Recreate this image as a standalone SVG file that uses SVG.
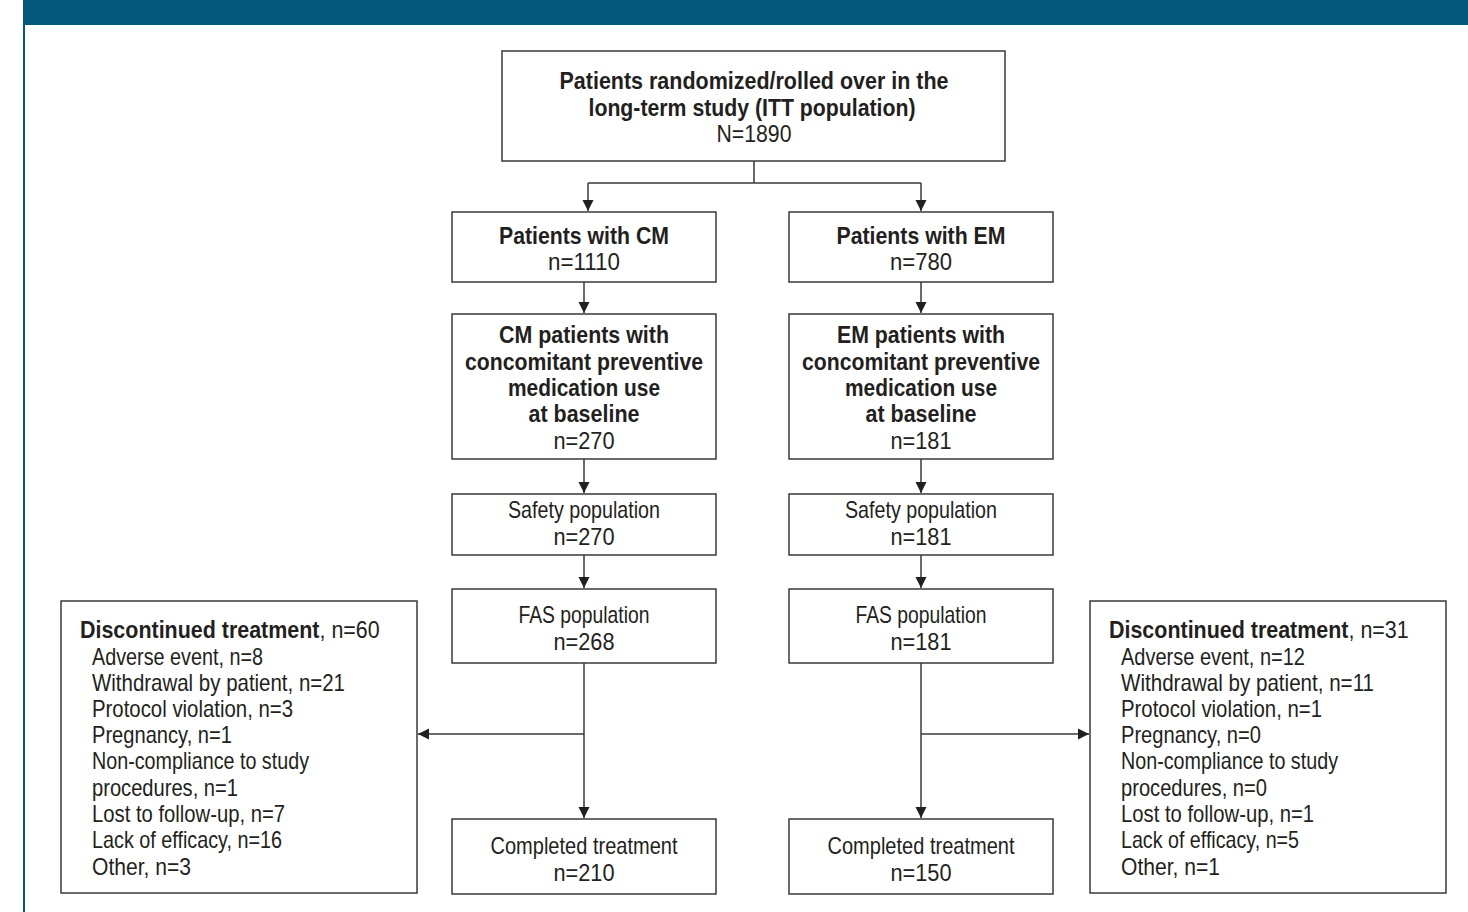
<svg xmlns="http://www.w3.org/2000/svg" width="1468" height="912" viewBox="0 0 1468 912">
<style>
.box{fill:#ffffff;stroke:#3a3a3a;stroke-width:1.5}
.t{font-family:"Liberation Sans",Arial,sans-serif;font-size:24px;fill:#231f20}
.c{text-anchor:middle}
.b{font-weight:bold}
.ln{fill:none;stroke:#3a3a3a;stroke-width:1.5}
</style>
<defs>
<marker id="arr" markerUnits="userSpaceOnUse" markerWidth="12" markerHeight="12" refX="11" refY="6" orient="auto">
<path d="M0,0.5 L11,6 L0,11.5 Z" fill="#231f20"/>
</marker>
</defs>
<rect x="0" y="0" width="1468" height="912" fill="#ffffff"/>
<rect x="23" y="0" width="1445" height="25" fill="#03577a"/>
<rect x="23" y="25" width="2" height="887" fill="#03577a"/>

<g id="connectors">
<path class="ln" d="M754,161 V183 M588,183 H921"/>
<path class="ln" d="M588,183 V211" marker-end="url(#arr)"/>
<path class="ln" d="M921,183 V211" marker-end="url(#arr)"/>
<path class="ln" d="M584,282 V313" marker-end="url(#arr)"/>
<path class="ln" d="M921,282 V313" marker-end="url(#arr)"/>
<path class="ln" d="M584,459 V493" marker-end="url(#arr)"/>
<path class="ln" d="M921,459 V493" marker-end="url(#arr)"/>
<path class="ln" d="M584,555 V588" marker-end="url(#arr)"/>
<path class="ln" d="M921,555 V588" marker-end="url(#arr)"/>
<path class="ln" d="M584,663 V818" marker-end="url(#arr)"/>
<path class="ln" d="M921,663 V818" marker-end="url(#arr)"/>
<path class="ln" d="M584,734 H418" marker-end="url(#arr)"/>
<path class="ln" d="M921,734 H1089" marker-end="url(#arr)"/>
</g>

<g id="itt">
<rect class="box" x="502" y="51" width="503" height="110"/>
<text class="t c b" x="754" y="89" textLength="389" lengthAdjust="spacingAndGlyphs">Patients randomized/rolled over in the</text>
<text class="t c b" x="752" y="116" textLength="327" lengthAdjust="spacingAndGlyphs">long-term study (ITT population)</text>
<text class="t c" x="754" y="142" textLength="75" lengthAdjust="spacingAndGlyphs">N=1890</text>
</g>

<g id="cm">
<rect class="box" x="452" y="212" width="264" height="70"/>
<text class="t c b" x="584" y="244" textLength="170" lengthAdjust="spacingAndGlyphs">Patients with CM</text>
<text class="t c" x="584" y="270" textLength="72" lengthAdjust="spacingAndGlyphs">n=1110</text>
</g>

<g id="em">
<rect class="box" x="789" y="212" width="264" height="70"/>
<text class="t c b" x="921" y="244" textLength="169" lengthAdjust="spacingAndGlyphs">Patients with EM</text>
<text class="t c" x="921" y="270" textLength="62" lengthAdjust="spacingAndGlyphs">n=780</text>
</g>

<g id="cm-prev">
<rect class="box" x="452" y="314" width="264" height="145"/>
<text class="t c b" x="584" y="343" textLength="170" lengthAdjust="spacingAndGlyphs">CM patients with</text>
<text class="t c b" x="584" y="370" textLength="238" lengthAdjust="spacingAndGlyphs">concomitant preventive</text>
<text class="t c b" x="584" y="396" textLength="152" lengthAdjust="spacingAndGlyphs">medication use</text>
<text class="t c b" x="584" y="422" textLength="111" lengthAdjust="spacingAndGlyphs">at baseline</text>
<text class="t c" x="584" y="449" textLength="61" lengthAdjust="spacingAndGlyphs">n=270</text>
</g>

<g id="em-prev">
<rect class="box" x="789" y="314" width="264" height="145"/>
<text class="t c b" x="921" y="343" textLength="168" lengthAdjust="spacingAndGlyphs">EM patients with</text>
<text class="t c b" x="921" y="370" textLength="238" lengthAdjust="spacingAndGlyphs">concomitant preventive</text>
<text class="t c b" x="921" y="396" textLength="152" lengthAdjust="spacingAndGlyphs">medication use</text>
<text class="t c b" x="921" y="422" textLength="111" lengthAdjust="spacingAndGlyphs">at baseline</text>
<text class="t c" x="921" y="449" textLength="61" lengthAdjust="spacingAndGlyphs">n=181</text>
</g>

<g id="cm-safety">
<rect class="box" x="452" y="494" width="264" height="61"/>
<text class="t c" x="584" y="518" textLength="152" lengthAdjust="spacingAndGlyphs">Safety population</text>
<text class="t c" x="584" y="545" textLength="61" lengthAdjust="spacingAndGlyphs">n=270</text>
</g>

<g id="em-safety">
<rect class="box" x="789" y="494" width="264" height="61"/>
<text class="t c" x="921" y="518" textLength="152" lengthAdjust="spacingAndGlyphs">Safety population</text>
<text class="t c" x="921" y="545" textLength="61" lengthAdjust="spacingAndGlyphs">n=181</text>
</g>

<g id="cm-fas">
<rect class="box" x="452" y="589" width="264" height="74"/>
<text class="t c" x="584" y="623" textLength="131" lengthAdjust="spacingAndGlyphs">FAS population</text>
<text class="t c" x="584" y="650" textLength="61" lengthAdjust="spacingAndGlyphs">n=268</text>
</g>

<g id="em-fas">
<rect class="box" x="789" y="589" width="264" height="74"/>
<text class="t c" x="921" y="623" textLength="131" lengthAdjust="spacingAndGlyphs">FAS population</text>
<text class="t c" x="921" y="650" textLength="61" lengthAdjust="spacingAndGlyphs">n=181</text>
</g>

<g id="cm-completed">
<rect class="box" x="452" y="819" width="264" height="75"/>
<text class="t c" x="584" y="854" textLength="187" lengthAdjust="spacingAndGlyphs">Completed treatment</text>
<text class="t c" x="584" y="881" textLength="61" lengthAdjust="spacingAndGlyphs">n=210</text>
</g>

<g id="em-completed">
<rect class="box" x="789" y="819" width="264" height="75"/>
<text class="t c" x="921" y="854" textLength="187" lengthAdjust="spacingAndGlyphs">Completed treatment</text>
<text class="t c" x="921" y="881" textLength="61" lengthAdjust="spacingAndGlyphs">n=150</text>
</g>

<g id="cm-discontinued">
<rect class="box" x="61" y="601" width="356" height="292"/>
<text class="t" transform="translate(80,638) scale(0.894,1)"><tspan class="b">Discontinued treatment</tspan>, n=60</text>
<text class="t" x="92" y="665" textLength="171" lengthAdjust="spacingAndGlyphs">Adverse event, n=8</text>
<text class="t" x="92" y="691" textLength="253" lengthAdjust="spacingAndGlyphs">Withdrawal by patient, n=21</text>
<text class="t" x="92" y="717" textLength="201" lengthAdjust="spacingAndGlyphs">Protocol violation, n=3</text>
<text class="t" x="92" y="743" textLength="140" lengthAdjust="spacingAndGlyphs">Pregnancy, n=1</text>
<text class="t" x="92" y="769" textLength="217" lengthAdjust="spacingAndGlyphs">Non-compliance to study</text>
<text class="t" x="92" y="796" textLength="146" lengthAdjust="spacingAndGlyphs">procedures, n=1</text>
<text class="t" x="92" y="822" textLength="193" lengthAdjust="spacingAndGlyphs">Lost to follow-up, n=7</text>
<text class="t" x="92" y="848" textLength="190" lengthAdjust="spacingAndGlyphs">Lack of efficacy, n=16</text>
<text class="t" x="92" y="875" textLength="99" lengthAdjust="spacingAndGlyphs">Other, n=3</text>
</g>

<g id="em-discontinued">
<rect class="box" x="1090" y="601" width="356" height="292"/>
<text class="t" transform="translate(1109,638) scale(0.894,1)"><tspan class="b">Discontinued treatment</tspan>, n=31</text>
<text class="t" x="1121" y="665" textLength="184" lengthAdjust="spacingAndGlyphs">Adverse event, n=12</text>
<text class="t" x="1121" y="691" textLength="253" lengthAdjust="spacingAndGlyphs">Withdrawal by patient, n=11</text>
<text class="t" x="1121" y="717" textLength="201" lengthAdjust="spacingAndGlyphs">Protocol violation, n=1</text>
<text class="t" x="1121" y="743" textLength="140" lengthAdjust="spacingAndGlyphs">Pregnancy, n=0</text>
<text class="t" x="1121" y="769" textLength="217" lengthAdjust="spacingAndGlyphs">Non-compliance to study</text>
<text class="t" x="1121" y="796" textLength="146" lengthAdjust="spacingAndGlyphs">procedures, n=0</text>
<text class="t" x="1121" y="822" textLength="193" lengthAdjust="spacingAndGlyphs">Lost to follow-up, n=1</text>
<text class="t" x="1121" y="848" textLength="178" lengthAdjust="spacingAndGlyphs">Lack of efficacy, n=5</text>
<text class="t" x="1121" y="875" textLength="99" lengthAdjust="spacingAndGlyphs">Other, n=1</text>
</g>
</svg>
